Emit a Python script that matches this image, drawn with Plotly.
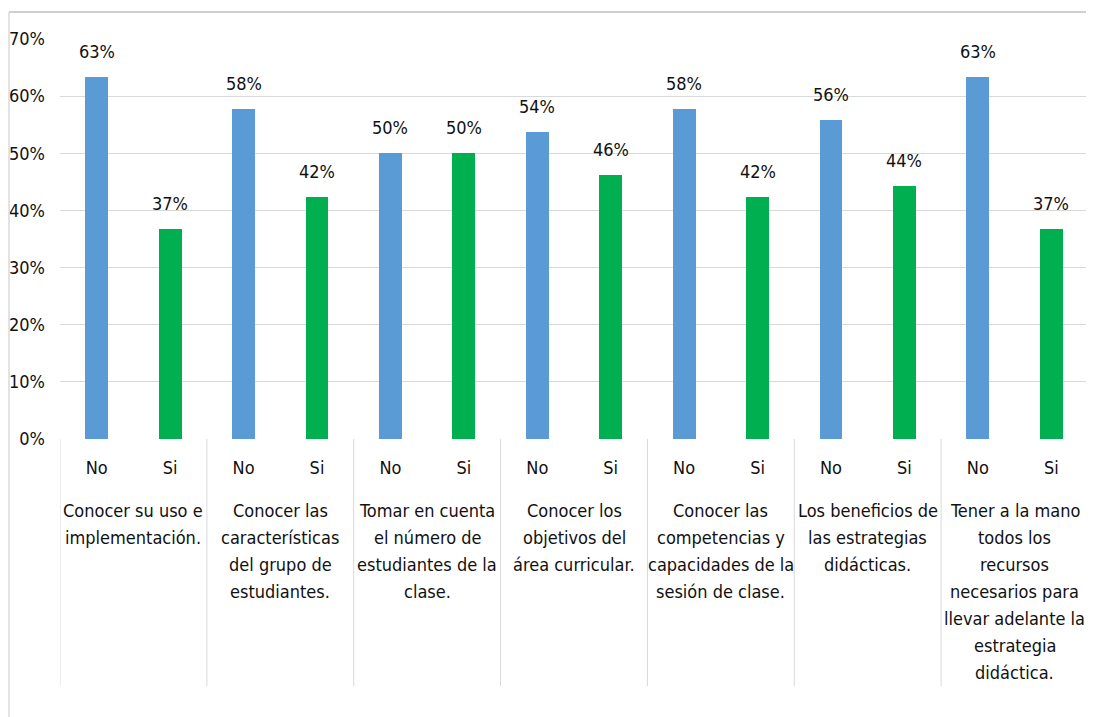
import plotly.graph_objects as go

groups = [
    "Conocer su uso e<br>implementación.",
    "Conocer las<br>características<br>del grupo de<br>estudiantes.",
    "Tomar en cuenta<br>el número de<br>estudiantes de la<br>clase.",
    "Conocer los<br>objetivos del<br>área curricular.",
    "Conocer las<br>competencias y<br>capacidades de la<br>sesión de clase.",
    "Los beneficios de<br>las estrategias<br>didácticas.",
    "Tener a la mano<br>todos los<br>recursos<br>necesarios para<br>llevar adelante la<br>estrategia<br>didáctica.",
]
series_labels = ["No", "Si"]
no_vals = [0.633, 0.577, 0.50, 0.538, 0.577, 0.558, 0.633]
si_vals = [0.367, 0.423, 0.50, 0.462, 0.423, 0.442, 0.367]
y_ticks = [0, 0.1, 0.2, 0.3, 0.4, 0.5, 0.6, 0.7]

FONT = "DejaVu Sans Condensed, DejaVu Sans, sans-serif"
FS = 18
TXT = "#111111"
colors = ["#5B9BD5", "#00B050"]

PLOT_H = 400.0  # plot area height in px (for paper-offset conversions)

n = len(groups)
x_no = [2 * i for i in range(n)]
x_si = [2 * i + 1 for i in range(n)]

fig = go.Figure()
for xs, vals, name, col in [(x_no, no_vals, "No", colors[0]), (x_si, si_vals, "Si", colors[1])]:
    fig.add_trace(go.Bar(x=xs, y=vals, name=name, marker=dict(color=col, line=dict(width=0)),
                         width=0.31, hoverinfo="y"))
    for xv, v in zip(xs, vals):
        fig.add_annotation(x=xv, y=v, xref="x", yref="y", text=f"{v*100:.0f}%",
                           showarrow=False, yanchor="bottom", yshift=13,
                           font=dict(family=FONT, size=FS, color=TXT))

tickvals = list(range(2 * n))
ticktext = [series_labels[i % 2] for i in tickvals]

# group labels, one annotation per line for Excel-like line spacing
for i, g in enumerate(groups):
    for k, line in enumerate(g.split("<br>")):
        fig.add_annotation(x=2 * i + 0.5, y=-(71 + 27 * k) / PLOT_H, xref="x", yref="paper",
                           text=line, showarrow=False, yanchor="middle", xanchor="center",
                           font=dict(family=FONT, size=FS, color=TXT))

# group dividers
for i in range(n + 1):
    fig.add_shape(type="line", xref="x", yref="paper", x0=2 * i - 0.5, x1=2 * i - 0.5,
                  y0=0, y1=-247 / PLOT_H, line=dict(color="#d9d9d9", width=1))

# outer chart frame (left and top)
fig.add_shape(type="line", xref="paper", yref="paper", x0=-0.0496, x1=-0.0496,
              y0=1.0675, y1=-0.75, line=dict(color="#d9d9d9", width=1.5))
fig.add_shape(type="line", xref="paper", yref="paper", x0=-0.0496, x1=1.01,
              y0=1.0675, y1=1.0675, line=dict(color="#d0d0d0", width=2))

fig.update_layout(
    width=1086, height=709,
    margin=dict(l=52, r=6, t=31, b=278, autoexpand=False),
    paper_bgcolor="white", plot_bgcolor="white",
    showlegend=False, bargap=0,
    font=dict(family=FONT, size=FS, color=TXT),
)
fig.update_xaxes(range=[-0.5, 2 * n - 0.5], tickvals=tickvals, ticktext=ticktext,
                 showgrid=False, zeroline=False, showline=False, ticks="", automargin=False,
                 ticklabelstandoff=16, tickfont=dict(family=FONT, size=FS, color=TXT))
fig.update_yaxes(range=[0, 0.7], tickvals=y_ticks, tickformat=".0%", automargin=False,
                 showgrid=True, gridcolor="#d9d9d9", gridwidth=1, zeroline=False,
                 showline=False, ticks="", ticklabelstandoff=14,
                 tickfont=dict(family=FONT, size=FS, color=TXT))

fig.write_html("out.html")
